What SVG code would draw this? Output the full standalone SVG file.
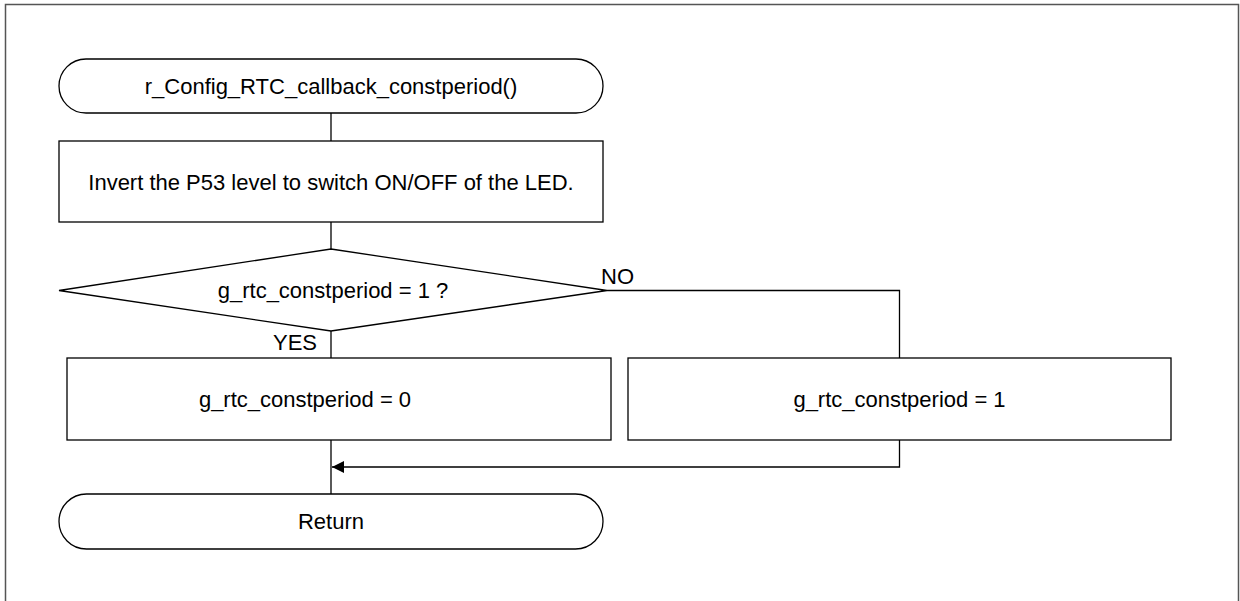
<svg xmlns="http://www.w3.org/2000/svg" width="1240" height="601" viewBox="0 0 1240 601">
<style>
.s{fill:#fff;stroke:#000;stroke-width:1.3}
.t{font-family:"Liberation Sans",Arial,sans-serif;font-size:22px;fill:#000;text-anchor:middle;dominant-baseline:central}
.l{font-family:"Liberation Sans",Arial,sans-serif;font-size:22px;fill:#000}
.c{fill:none;stroke:#000;stroke-width:1.3}
</style>
<defs>
<marker id="ah" viewBox="0 0 12 12" refX="12" refY="6" markerWidth="12" markerHeight="12" markerUnits="userSpaceOnUse" orient="auto">
<path d="M0,0 L12,6 L0,12 z" fill="#000"/>
</marker>
</defs>
<rect x="0" y="0" width="1240" height="601" fill="#fff"/>
<path d="M5.5,601 V4.5 H1238.5 V601" fill="none" stroke="#555" stroke-width="1.5"/>
<g id="connectors">
<line class="c" x1="331" y1="113" x2="331" y2="141"/>
<line class="c" x1="331" y1="222" x2="331" y2="249"/>
<line class="c" x1="331" y1="331" x2="331" y2="358"/>
<polyline class="c" points="607,290.5 899.5,290.5 899.5,358"/>
<line class="c" x1="331" y1="440" x2="331" y2="494"/>
<polyline class="c" points="899.5,440 899.5,467 332,467" marker-end="url(#ah)"/>
<text class="l" x="601" y="284">NO</text>
<text class="l" x="317" y="350" text-anchor="end">YES</text>
</g>
<g id="start">
<rect class="s" x="59" y="59" width="544" height="54" rx="27"/>
<text class="t" x="331" y="86">r_Config_RTC_callback_constperiod()</text>
</g>
<g id="invert">
<rect class="s" x="59" y="141" width="544" height="81"/>
<text class="t" x="331" y="182">Invert the P53 level to switch ON/OFF of the LED.</text>
</g>
<g id="decision">
<polygon class="s" points="331,249 607,290.5 331,331 59,290.5"/>
<text class="t" x="333" y="290">g_rtc_constperiod = 1 ?</text>
</g>
<g id="set0">
<rect class="s" x="67" y="358" width="544" height="82"/>
<text class="t" x="305" y="399">g_rtc_constperiod = 0</text>
</g>
<g id="set1">
<rect class="s" x="628" y="358" width="543" height="82"/>
<text class="t" x="899.5" y="399">g_rtc_constperiod = 1</text>
</g>
<g id="return">
<rect class="s" x="59" y="494" width="544" height="55" rx="27.5"/>
<text class="t" x="331" y="521.5">Return</text>
</g>
</svg>
